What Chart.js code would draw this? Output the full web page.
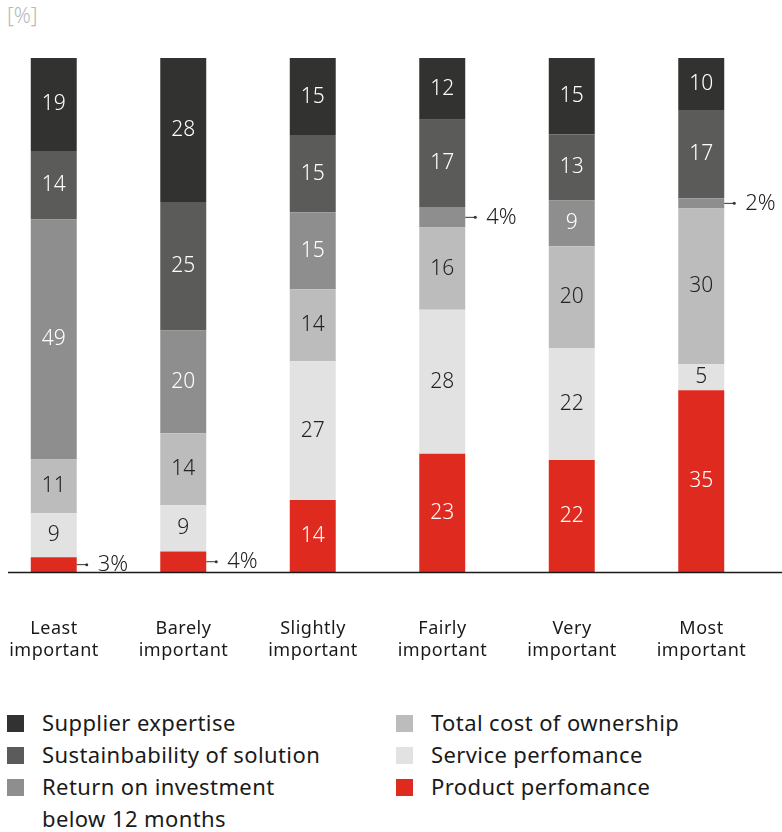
<!DOCTYPE html>
<html><head><meta charset="utf-8">
<script src="https://cdn.jsdelivr.net/npm/chart.js@4/dist/chart.umd.min.js"></script>
<style>
html,body{margin:0;padding:0;background:#fff;width:782px;height:832px;overflow:hidden;position:relative;font-family:"Noto Sans",sans-serif;color:#1a1a1a}
#unit{position:absolute;left:7px;top:1px;font-size:21px;color:#b8b8b8;font-weight:300;}
#wrap{position:absolute;left:-11px;top:0;width:793px;height:700px;}
.li{position:absolute;height:32px;line-height:32px;font-size:22px;letter-spacing:0.4px;white-space:nowrap;}
.sq{position:absolute;width:17px;height:17px;}
</style></head><body>
<div id="unit">[%]</div>
<div id="wrap"><canvas id="c" width="793" height="700"></canvas></div>
<div id="legend"></div>
<script>
const categories = [["Least","important"],["Barely","important"],["Slightly","important"],["Fairly","important"],["Very","important"],["Most","important"]];
const seriesNames = ["Product perfomance","Service perfomance","Total cost of ownership","Return on investment below 12 months","Sustainbability of solution","Supplier expertise"];
const product  = [3, 4, 14, 23, 22, 35];
const service  = [9, 9, 27, 28, 22, 5];
const tco      = [11, 14, 14, 16, 20, 30];
const roi      = [49, 20, 15, 4, 9, 2];
const sustain  = [14, 25, 15, 17, 13, 17];
const supplier = [19, 28, 15, 12, 15, 10];

const colors = ["#df2a20","#e1e2e1","#bbbcbb","#8e8e8e","#5b5b59","#323230"];
const labelColors = ["#ffffff","#222222","#222222","#ffffff","#ffffff","#ffffff"];
const series = [product, service, tco, roi, sustain, supplier];
const totals = categories.map((_, i) => series.reduce((s, a) => s + a[i], 0));

const datasets = series.map((arr, k) => ({
  label: seriesNames[k],
  data: arr.map((v, i) => v / totals[i] * 100),
  raw: arr,
  backgroundColor: colors[k],
  borderWidth: 0,
  barPercentage: 0.355,
  categoryPercentage: 1
}));

const FONT = '"Noto Sans", sans-serif';
const labelPlugin = {
  id: 'labels',
  afterDatasetsDraw(chart) {
    const ctx = chart.ctx;
    ctx.save();
    chart.data.datasets.forEach((ds, k) => {
      const meta = chart.getDatasetMeta(k);
      meta.data.forEach((el, i) => {
        const v = ds.raw[i];
        const cy = (el.y + el.base) / 2;
        if (v >= 5) {
          ctx.font = '300 21px ' + FONT;
          ctx.fillStyle = labelColors[k];
          ctx.textAlign = 'center';
          ctx.textBaseline = 'middle';
          ctx.fillText(String(v), el.x, cy);
        } else {
          const x0 = el.x + el.width / 2;
          ctx.strokeStyle = '#333';
          ctx.lineWidth = 1;
          ctx.beginPath();
          ctx.moveTo(x0, cy);
          ctx.lineTo(x0 + 10, cy);
          ctx.stroke();
          ctx.fillStyle = '#333';
          ctx.beginPath();
          ctx.arc(x0 + 10, cy, 1.5, 0, Math.PI * 2);
          ctx.fill();
          ctx.font = '300 22px ' + FONT;
          ctx.fillStyle = '#222';
          ctx.textAlign = 'left';
          ctx.textBaseline = 'middle';
          ctx.fillText(v + '%', x0 + 21, cy);
        }
      });
    });
    // baseline
    ctx.strokeStyle = '#1a1a1a';
    ctx.lineWidth = 1.6;
    ctx.beginPath();
    ctx.moveTo(19, chart.chartArea.bottom + 0.5);
    ctx.lineTo(793, chart.chartArea.bottom + 0.5);
    ctx.stroke();
    // category labels
    const xs = chart.scales.x;
    ctx.font = '18px ' + FONT;
    ctx.fillStyle = '#1a1a1a';
    ctx.textAlign = 'center';
    ctx.textBaseline = 'middle';
    if ('letterSpacing' in ctx) ctx.letterSpacing = '0.5px';
    categories.forEach((lines, i) => {
      const x = xs.getPixelForValue(i);
      lines.forEach((t, j) => ctx.fillText(t, x + 0.25, 629 + j * 22));
    });
    ctx.restore();
  }
};

new Chart(document.getElementById('c'), {
  type: 'bar',
  data: { labels: categories.map(c => c.join(' ')), datasets },
  options: {
    responsive: false,
    animation: false,
    devicePixelRatio: 1,
    layout: { padding: { left: 0, right: 16, top: 58, bottom: 128 } },
    plugins: { legend: { display: false }, tooltip: { enabled: false } },
    scales: {
      x: { stacked: true, display: false },
      y: { stacked: true, display: false, min: 0, max: 100 }
    }
  },
  plugins: [labelPlugin]
});

// HTML legend
const legendItems = [
  {k:5, x:7, y:723, text:"Supplier expertise"},
  {k:4, x:7, y:755, text:"Sustainbability of solution"},
  {k:3, x:7, y:787, text:"Return on investment<br>below 12 months"},
  {k:2, x:396, y:723, text:"Total cost of ownership"},
  {k:1, x:396, y:755, text:"Service perfomance"},
  {k:0, x:396, y:787, text:"Product perfomance"}
];
const lg = document.getElementById('legend');
legendItems.forEach(it => {
  const sq = document.createElement('div');
  sq.className = 'sq';
  sq.style.left = it.x + 'px';
  sq.style.top = (it.y - 8.5) + 'px';
  sq.style.background = colors[it.k];
  lg.appendChild(sq);
  const t = document.createElement('div');
  t.className = 'li';
  t.style.left = (it.x + 35) + 'px';
  t.style.top = (it.y - 17) + 'px';
  t.innerHTML = it.text;
  lg.appendChild(t);
});
</script>
</body></html>
